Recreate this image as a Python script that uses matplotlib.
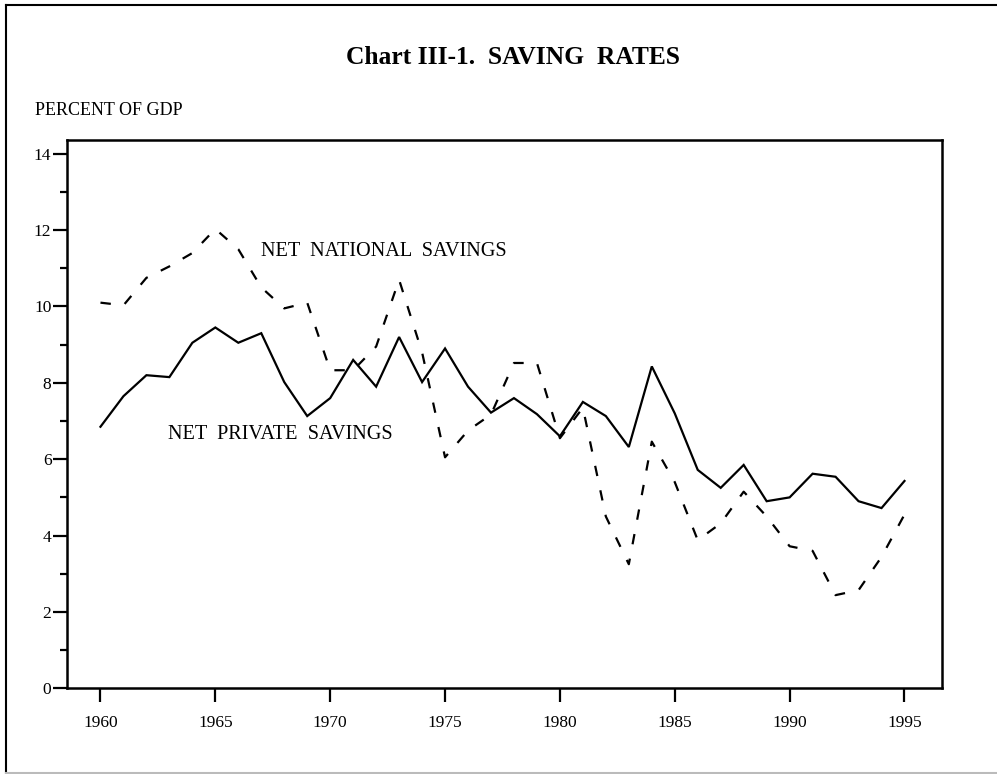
import matplotlib
matplotlib.use("Agg")
import matplotlib.pyplot as plt
from matplotlib.lines import Line2D
from matplotlib.ticker import MultipleLocator

years = list(range(1960, 1996))
private_savings = [6.85, 7.65, 8.20, 8.15, 9.05, 9.45, 9.05, 9.30, 8.02, 7.13,
                   7.60, 8.60, 7.90, 9.20, 8.02, 8.90, 7.90, 7.22, 7.60, 7.18,
                   6.60, 7.50, 7.13, 6.32, 8.43, 7.20, 5.72, 5.25, 5.85, 4.90,
                   5.00, 5.62, 5.54, 4.90, 4.72, 5.43]
national_savings = [10.10, 10.03, 10.75, 11.05, 11.40, 12.03, 11.50, 10.50, 9.95, 10.10,
                    8.33, 8.33, 8.95, 10.70, 8.80, 6.05, 6.75, 7.17, 8.52, 8.52,
                    6.55, 7.35, 4.50, 3.25, 6.46, 5.40, 3.88, 4.32, 5.15, 4.50,
                    3.72, 3.60, 2.44, 2.57, 3.44, 4.55]
x_ticks = [1960, 1965, 1970, 1975, 1980, 1985, 1990, 1995]
y_ticks = [0, 2, 4, 6, 8, 10, 12, 14]

plt.rcParams['font.family'] = ['Liberation Serif', 'DejaVu Serif']
plt.rcParams['lines.scale_dashes'] = False

W, H = 997, 774
fig = plt.figure(figsize=(W / 100, H / 100), dpi=100)
ax = fig.add_axes([66.7 / W, 1 - 688.3 / H, (941.7 - 66.7) / W, (688.3 - 140) / H])

ax.plot(years, private_savings, color='black', lw=1.6, solid_joinstyle='miter')
ax.plot(years, national_savings, color='black', lw=1.6, linestyle=(0, (7.5, 10.5)))

ax.set_xlim(1958.53, 1996.62)
ax.set_ylim(0, 14.36)
ax.set_xticks(x_ticks)
ax.set_xticklabels([str(v) for v in x_ticks])
ax.set_yticks(y_ticks)
ax.set_yticklabels([str(v) for v in y_ticks])
ax.yaxis.set_minor_locator(MultipleLocator(1))

for s in ax.spines.values():
    s.set_linewidth(1.8)
ax.tick_params(axis='x', which='major', direction='out', length=10, width=1.6,
               pad=9, labelsize=12.5)
ax.tick_params(axis='y', which='major', direction='out', length=10, width=1.6,
               pad=1, labelsize=12.5)
ax.tick_params(axis='y', which='minor', direction='out', length=5, width=1.6)

ax.text(1966.99, 11.32, "NET  NATIONAL  SAVINGS", fontsize=14.6, va='baseline', ha='left')
ax.text(1962.95, 6.52, "NET  PRIVATE  SAVINGS", fontsize=14.6, va='baseline', ha='left')

fig.text(512.5 / W, 1 - 64.3 / H, "Chart III-1.  SAVING  RATES", fontsize=18.4,
         fontweight='bold', ha='center', va='baseline')
fig.text(35 / W, 1 - 115 / H, "PERCENT OF GDP", fontsize=13, ha='left', va='baseline')

# outer frame
fig.add_artist(Line2D([6 / W, 1.0], [1 - 5 / H, 1 - 5 / H], color='black', lw=1.5,
                      transform=fig.transFigure))
fig.add_artist(Line2D([6 / W, 6 / W], [1 - 5 / H, 1 - 773 / H], color='black', lw=1.5,
                      transform=fig.transFigure))
fig.add_artist(Line2D([6 / W, 1.0], [1 - 773 / H, 1 - 773 / H], color='#bbbbbb', lw=1.5,
                      transform=fig.transFigure))

fig.savefig("out.png", dpi=100)
